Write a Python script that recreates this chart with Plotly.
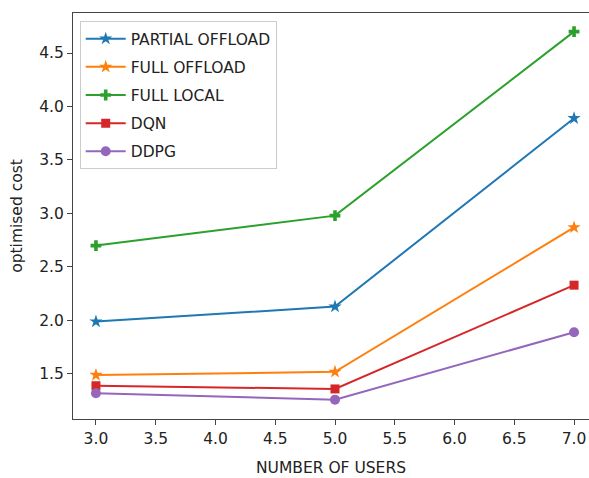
import plotly.graph_objects as go

# Number of users on the x axis
users = [3.0, 5.0, 7.0]

# Optimised cost for each strategy
partial_offload = [1.99, 2.13, 3.89]
full_offload = [1.49, 1.52, 2.87]
full_local = [2.70, 2.98, 4.70]
dqn = [1.39, 1.36, 2.33]
ddpg = [1.32, 1.26, 1.89]

series = [
    ("PARTIAL OFFLOAD", partial_offload, "#1f77b4", "star", 10),
    ("FULL OFFLOAD", full_offload, "#ff7f0e", "star", 10),
    ("FULL LOCAL", full_local, "#2ca02c", "cross", 9),
    ("DQN", dqn, "#d62728", "square", 9),
    ("DDPG", ddpg, "#9467bd", "circle", 10),
]

x_ticks = [3.0, 3.5, 4.0, 4.5, 5.0, 5.5, 6.0, 6.5, 7.0]
y_ticks = [1.5, 2.0, 2.5, 3.0, 3.5, 4.0, 4.5]

fig = go.Figure()
for i, (name, vals, color, symbol, size) in enumerate(series):
    fig.add_trace(go.Scatter(
        x=users, y=vals, name=name, mode="lines+markers",
        legendgroup=f"g{i}",
        line=dict(color=color, width=2),
        marker=dict(symbol=symbol, size=size, color=color),
    ))

font_family = "DejaVu Sans"
axis_col = "#444444"
txt_col = "#222222"
fs = 15.5

fig.update_layout(
    width=589, height=478,
    margin=dict(l=73, r=0, t=13, b=59),
    paper_bgcolor="white", plot_bgcolor="white",
    font=dict(family=font_family, size=fs, color=txt_col),
    showlegend=True,
    legend=dict(
        x=0.013, y=0.98, xanchor="left", yanchor="top",
        bgcolor="rgba(255,255,255,0.8)",
        bordercolor="#cccccc", borderwidth=1,
        font=dict(family=font_family, size=fs, color=txt_col),
        tracegroupgap=5,
        itemwidth=40,
    ),
    xaxis=dict(
        range=[2.808, 7.125],
        tickvals=x_ticks, ticktext=[f"{v:.1f}" for v in x_ticks],
        showgrid=False, zeroline=False,
        showline=True, linecolor=axis_col, linewidth=1.2, mirror=True,
        ticks="outside", ticklen=5, tickcolor=axis_col, tickwidth=1,
        tickfont=dict(size=fs, color=txt_col),
        title=dict(text="NUMBER OF USERS", standoff=15,
                   font=dict(size=fs, color=txt_col)),
    ),
    yaxis=dict(
        range=[1.079, 4.874],
        tickvals=y_ticks, ticktext=[f"{v:.1f}" for v in y_ticks],
        showgrid=False, zeroline=False,
        showline=True, linecolor=axis_col, linewidth=1.2, mirror=False,
        ticks="outside", ticklen=5, tickcolor=axis_col, tickwidth=1,
        tickfont=dict(size=fs, color=txt_col),
        title=dict(text="optimised cost", standoff=12,
                   font=dict(size=fs, color=txt_col)),
    ),
)

fig.write_html("out.html")
